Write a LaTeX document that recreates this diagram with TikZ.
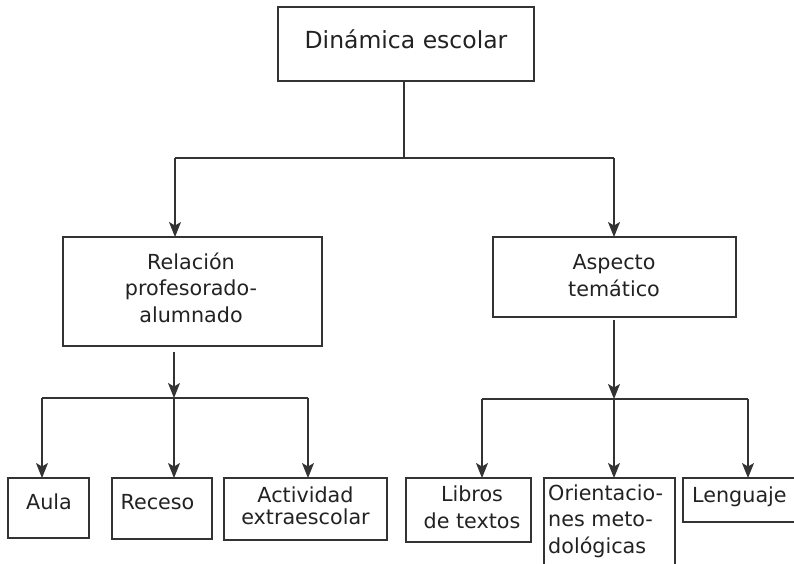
\documentclass[tikz,border=0pt]{standalone}
\usepackage{fontspec}
\setmainfont{DejaVu Sans}
\usetikzlibrary{arrows.meta,calc}
\definecolor{ink}{HTML}{222222}
\definecolor{linec}{HTML}{333333}
\begin{document}
\begin{tikzpicture}[x=1pt,y=-1pt,
  box/.style={draw=linec, line width=1.3pt, rectangle, inner sep=0pt, outer sep=0pt, anchor=north west},
  txt/.style={text=ink, inner sep=0pt, anchor=base, align=center, font=\fontsize{20.7}{26.5}\selectfont},
  ltxt/.style={txt, anchor=base west, align=left},
  conn/.style={draw=linec, line width=1.3pt},
  arr/.style={conn, -{Stealth[length=15pt,width=12pt,inset=3.5pt]}},
]
\useasboundingbox (0,0) rectangle (794,563);
% boxes
\node[box, minimum width=256pt, minimum height=74pt] (top) at (278,7) {};
\node[box, minimum width=259pt, minimum height=109pt] (rel) at (63,237) {};
\node[box, minimum width=243pt, minimum height=80pt] (asp) at (493,237) {};
\node[box, minimum width=81pt, minimum height=60pt] (aula) at (8,478) {};
\node[box, minimum width=100pt, minimum height=61pt] (rec) at (112,478) {};
\node[box, minimum width=163pt, minimum height=62pt] (act) at (224,478) {};
\node[box, minimum width=125pt, minimum height=64pt] (lib) at (406,478) {};
\node[box, minimum width=131pt, minimum height=100pt] (ori) at (544,478) {};
\node[box, minimum width=130pt, minimum height=44pt] (len) at (683,478) {};
% texts (base anchor = baseline of last line)
\node[txt, font=\fontsize{23.5}{28}\selectfont] (ttop) at (406,48) {Dinámica escolar};
\node[txt] (trel) at (191,322) {Relación\\profesorado-\\alumnado};
\node[txt] (tasp) at (614,296) {Aspecto\\temático};
\node[txt] (taula) at (49,509) {Aula};
\node[txt] (trec) at (157.5,509) {Receso};
\node[txt, font=\fontsize{20.7}{21.5}\selectfont] (tact) at (305.5,524) {Actividad\\extraescolar};
\node[txt] (tlib) at (472,528) {Libros\\de textos};
\node[ltxt] (tori) at (548,553) {Orientacio-\\nes meto-\\dológicas};
\node[ltxt] (tlen) at (692,502) {Lenguaje};
% connectors level 1
\coordinate (j0) at (404,158);
\coordinate (jL) at (175,158);
\coordinate (jR) at (614,158);
\draw[conn] (j0 |- top.south) -- (j0);
\draw[conn] (jL) -- (jR);
\draw[arr] (jL) -- (jL |- rel.north);
\draw[arr] (jR) -- (jR |- asp.north);
% left group
\coordinate (k0) at (174,398);
\coordinate (kL) at (42,398);
\coordinate (kR) at (308,398);
\draw[arr] ($(k0 |- rel.south)+(0,6)$) -- (k0);
\draw[conn] (kL) -- (kR);
\draw[arr] (kL) -- (kL |- aula.north);
\draw[arr] (k0) -- (k0 |- rec.north);
\draw[arr] (kR) -- (kR |- act.north);
% right group
\coordinate (m0) at (614,399);
\coordinate (mL) at (482,399);
\coordinate (mR) at (748,399);
\draw[arr] ($(m0 |- asp.south)+(0,3)$) -- (m0);
\draw[conn] (mL) -- (mR);
\draw[arr] (mL) -- (mL |- lib.north);
\draw[arr] (m0) -- (m0 |- ori.north);
\draw[arr] (mR) -- (mR |- len.north);
\end{tikzpicture}
\end{document}
